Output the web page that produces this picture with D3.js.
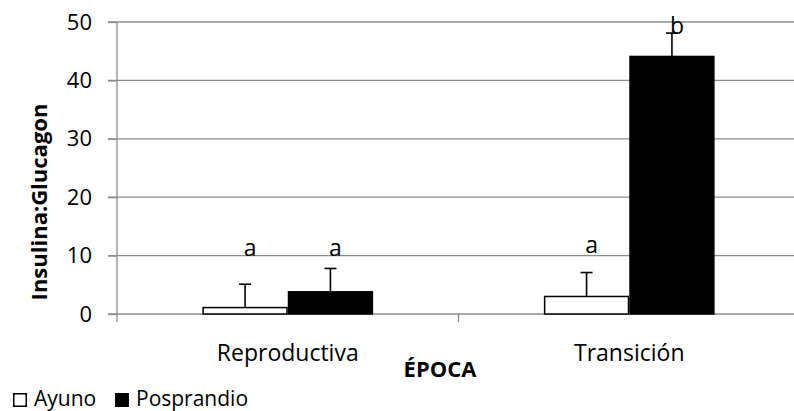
<!DOCTYPE html>
<html>
<head>
<meta charset="utf-8">
<script src="https://cdn.jsdelivr.net/npm/d3@7"></script>
<style>
  body { margin: 0; background: #fff; }
  svg { display: block; font-family: "Open Sans", sans-serif; }
</style>
</head>
<body>
<div class="chart"></div>
<script>
// data
var categories = ["Reproductiva", "Transición"];
var seriesNames = ["Ayuno", "Posprandio"];
var ayuno = [1.1, 3.0];
var posprandio = [3.8, 44.1];
var ayunoErr = [4.0, 4.1];
var posprandioErr = [4.0, 4.0];
var ayunoLetters = ["a", "a"];
var posprandioLetters = ["a", "b"];
var ayunoLetterAt = [11.3, 11.8];
var posprandioLetterAt = [11.3, 49.4];
var yTicks = [0, 10, 20, 30, 40, 50];

var width = 794, height = 411;
var plotLeft = 117, plotRight = 800, plotTop = 22, plotBottom = 314;

var svg = d3.select(".chart").append("svg")
  .attr("width", width)
  .attr("height", height);

var x = d3.scaleBand().domain(categories).range([plotLeft, plotRight]);
var x1 = d3.scaleBand().domain(seriesNames).range([0, x.bandwidth()]).paddingOuter(1.0);
var y = d3.scaleLinear().domain([0, 50]).range([plotBottom, plotTop]);

// rebuild per-bar rows from the arrays
var rows = [];
categories.forEach(function(c, i) {
  rows.push({cat: c, s: "Ayuno", v: ayuno[i], e: ayunoErr[i], l: ayunoLetters[i], la: ayunoLetterAt[i]});
  rows.push({cat: c, s: "Posprandio", v: posprandio[i], e: posprandioErr[i], l: posprandioLetters[i], la: posprandioLetterAt[i]});
});

// gridlines
svg.append("g")
  .selectAll("line").data(yTicks.slice(1)).enter().append("line")
  .attr("x1", plotLeft - 9).attr("x2", plotRight)
  .attr("y1", function(d) { return y(d); }).attr("y2", function(d) { return y(d); })
  .attr("stroke", "#8c8c8c").attr("stroke-width", 1.3);

// y axis
var yAxis = svg.append("g")
  .attr("transform", "translate(" + plotLeft + ",0)")
  .call(d3.axisLeft(y).tickValues(yTicks).tickSize(9).tickPadding(16));
yAxis.select(".domain").attr("stroke", "#8c8c8c").attr("stroke-width", 1.3)
  .attr("d", "M0," + (plotBottom + 8) + "V" + plotTop);
yAxis.selectAll(".tick line").attr("stroke", "#8c8c8c").attr("stroke-width", 1.3);
yAxis.selectAll(".tick text").attr("font-size", 22).attr("fill", "#000")
  .attr("font-family", "Open Sans");

// x axis
var xAxis = svg.append("g")
  .attr("transform", "translate(0," + plotBottom + ")")
  .call(d3.axisBottom(x).tickSize(0).tickPadding(31));
xAxis.select(".domain").attr("stroke", "#8c8c8c").attr("stroke-width", 1.3)
  .attr("d", "M" + (plotLeft - 9) + ",0H" + plotRight);
xAxis.selectAll(".tick text").attr("font-size", 23).attr("fill", "#000")
  .attr("font-family", "Open Sans");
svg.append("g").selectAll("line").data(categories).enter().append("line")
  .attr("x1", function(d) { return x(d) + x.bandwidth(); })
  .attr("x2", function(d) { return x(d) + x.bandwidth(); })
  .attr("y1", plotBottom).attr("y2", plotBottom + 8)
  .attr("stroke", "#8c8c8c").attr("stroke-width", 1.3);

// bars
var bars = svg.append("g").selectAll("g").data(rows).enter().append("g")
  .attr("transform", function(d) { return "translate(" + (x(d.cat) + x1(d.s)) + ",0)"; });
bars.append("rect")
  .attr("x", 0.75)
  .attr("y", function(d) { return y(d.v); })
  .attr("width", x1.bandwidth() - 1.5)
  .attr("height", function(d) { return y(0) - y(d.v); })
  .attr("fill", function(d) { return d.s === "Ayuno" ? "#fff" : "#000"; })
  .attr("stroke", "#000").attr("stroke-width", 1.5);

// error bars (upper only)
var cx = x1.bandwidth() / 2;
bars.append("line")
  .attr("x1", cx).attr("x2", cx)
  .attr("y1", function(d) { return y(d.v); })
  .attr("y2", function(d) { return y(d.v + d.e); })
  .attr("stroke", "#000").attr("stroke-width", 1.6);
bars.append("line")
  .attr("x1", cx - 6).attr("x2", cx + 6)
  .attr("y1", function(d) { return y(d.v + d.e); })
  .attr("y2", function(d) { return y(d.v + d.e); })
  .attr("stroke", "#000").attr("stroke-width", 1.6);

// significance letters
bars.append("text")
  .attr("x", cx + 5)
  .attr("y", function(d) { return y(d.la); })
  .attr("dy", "0.35em")
  .attr("text-anchor", "middle")
  .attr("font-size", 23)
  .text(function(d) { return d.l; });

// axis titles
svg.append("text")
  .attr("transform", "translate(47,202) rotate(-90)")
  .attr("text-anchor", "middle")
  .attr("font-size", 22).attr("font-weight", "bold")
  .text("Insulina:Glucagon");
svg.append("text")
  .attr("x", 440).attr("y", 377)
  .attr("text-anchor", "middle")
  .attr("font-size", 22).attr("font-weight", "bold")
  .text("ÉPOCA");

// legend
var legend = svg.append("g").attr("transform", "translate(13,393)");
var items = legend.selectAll("g").data(seriesNames).enter().append("g")
  .attr("transform", function(d, i) { return "translate(" + (i * 102) + ",0)"; });
items.append("rect")
  .attr("x", 0.75).attr("y", 0.75).attr("width", 12.5).attr("height", 12.5)
  .attr("fill", function(d) { return d === "Ayuno" ? "#fff" : "#000"; })
  .attr("stroke", "#000").attr("stroke-width", 1.5);
items.append("text")
  .attr("x", 21).attr("y", 12.5)
  .attr("font-size", 21)
  .text(function(d) { return d; });
</script>
</body>
</html>
